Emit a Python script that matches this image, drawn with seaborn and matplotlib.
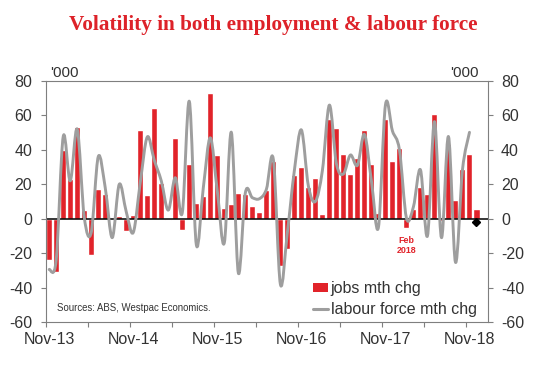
import numpy as np
import pandas as pd
import matplotlib
matplotlib.use("Agg")
import matplotlib.pyplot as plt
import seaborn as sns
from matplotlib.path import Path
from matplotlib.patches import PathPatch, Patch
from matplotlib.lines import Line2D

# ---------------- data ----------------
months = pd.date_range("2013-11-01", periods=62, freq="MS").strftime("%b-%y").tolist()

jobs = [-24, -31, 40, 23, 53, 5, -21, 17, 14.5, -1,
        1.7, -7, 2.3, 51.6, 13.9, 64.3, 20.9, -1, 47, -6.4,
        31.9, 9.3, 13.3, 73, 37.1, 6.4, 8.7, 15.1, 14.5, 7.5,
        4.1, 16.8, 33.6, -27.2, -17.4, 25.5, 30.1, 18.6, 23.8, 2.9,
        58, 52.8, 37.7, 26.1, 35.4, 51.6, 31.9, 3.5, 58, 33.6,
        41.2, -5.2, 5.8, 18.6, 14.5, 60.9, -1.5, 43.5, 11, 29,
        37.7, 5.8]

labour_force = [-29.5, -24, 47.7, 22, 52, 1, -8, 36, 18, -11,
                20, 4, -8, 21, 47.5, 34, 22, 5, 23.8, 3.5,
                68.2, -15, 18, 47, 16, -14, 50.2, -31.5, 15, 12.2,
                11.6, 17, 34.4, -38, -8, 28, 51.6, 19, 10, 28,
                66, 32, 26, 37, 31, 49, 22, -5, 66, 51,
                40, 0.4, 7, 28.4, -10, 56.4, -11, 47.7, -25.3, 28.4,
                50.2]

latest_marker = [-2]          # black diamond on the latest month
xtick_labels = ["Nov-13", "Nov-14", "Nov-15", "Nov-16", "Nov-17", "Nov-18"]
yticks = [-60, -40, -20, 0, 20, 40, 60, 80]

RED = "#E1232A"
TITLE_RED = "#DD2229"
GRAY = "#9E9E9E"
TXT = "#333333"
SPINE = "#7F7F7F"

# ---------------- style ----------------
sns.set_style("white")
plt.rcParams["font.family"] = ["Liberation Sans", "DejaVu Sans"]

W, H = 534, 367
fig = plt.figure(figsize=(W / 100, H / 100), dpi=100)
L, R, T, B = 45.7, 487.7, 81, 322
ax = fig.add_axes([L / W, 1 - B / H, (R - L) / W, (B - T) / H])

df = pd.DataFrame({"month": months, "jobs": jobs})
sns.barplot(data=df, x="month", y="jobs", color=RED, saturation=1,
            width=0.86, ax=ax, zorder=2)

ax.axhline(0, color="black", lw=1.1, zorder=2.5)

# Smoothed (Excel-style) line through the monthly labour-force values
xs = np.arange(len(labour_force), dtype=float)
ys = np.asarray(labour_force, dtype=float)
n = len(xs)
verts = [(xs[0], ys[0])]
codes = [Path.MOVETO]
for i in range(n - 1):
    p0 = np.array([xs[max(i - 1, 0)], ys[max(i - 1, 0)]])
    p1 = np.array([xs[i], ys[i]])
    p2 = np.array([xs[i + 1], ys[i + 1]])
    p3 = np.array([xs[min(i + 2, n - 1)], ys[min(i + 2, n - 1)]])
    c1 = p1 + (p2 - p0) / 6.0
    c2 = p2 - (p3 - p1) / 6.0
    verts += [tuple(c1), tuple(c2), tuple(p2)]
    codes += [Path.CURVE4, Path.CURVE4, Path.CURVE4]
ax.add_patch(PathPatch(Path(verts, codes), fill=False, edgecolor=GRAY,
                       lw=2.1, zorder=3, capstyle="round", joinstyle="round"))

ax.plot([len(jobs) - 1], latest_marker, marker="D", color="black",
        markersize=4, lw=0, zorder=4)

# ---------------- axes ----------------
ax.set_ylim(-60, 80)
ax.set_xlim(-0.5, 62.6)
ax.set_xlabel("")
ax.set_ylabel("")
ax.set_yticks(yticks)
ax.set_yticklabels([str(v) for v in yticks])
ax.set_xticks(np.arange(0, len(jobs), 12))
ax.set_xticklabels(xtick_labels)
ax.set_xticks(np.arange(-0.5, len(jobs), 6), minor=True)

ax.tick_params(axis="x", which="major", length=0, pad=7.5,
               labelsize=11.5, labelcolor=TXT)
ax.tick_params(axis="x", which="minor", length=3.6, width=0.8,
               color=SPINE, direction="out", bottom=True)
ax.tick_params(axis="y", which="major", length=3.6, width=0.8, color=SPINE,
               direction="out", left=True, right=True, labelleft=True,
               labelright=True, labelsize=11.5, labelcolor=TXT, pad=6)
for s in ax.spines.values():
    s.set_visible(True)
    s.set_color(SPINE)
    s.set_linewidth(0.8)
ax.grid(False)

# ---------------- texts ----------------
fig.text(273 / W, 1 - 30 / H, "Volatility in both employment & labour force",
         ha="center", va="baseline", fontsize=15.3, fontweight="bold",
         family=["Liberation Serif", "DejaVu Serif"], color=TITLE_RED)
fig.text(50 / W, 1 - 77.3 / H, "'000", ha="left", va="baseline",
         fontsize=11, color=TXT)
fig.text(450 / W, 1 - 77.3 / H, "'000", ha="left", va="baseline",
         fontsize=11, color=TXT)
fig.text(56.7 / W, 1 - 311 / H, "Sources: ABS, Westpac Economics.",
         ha="left", va="baseline", fontsize=6.9, color=TXT)
ax.text(51, -15.5, "Feb\n2018", ha="center", va="center", fontsize=6.4,
        fontweight="bold", color=RED, linespacing=1.2, zorder=5)

handles = [Patch(facecolor=RED, edgecolor="none"),
           Line2D([], [], color=GRAY, lw=2.2)]
fig.legend(handles=handles, labels=["jobs mth chg", "labour force mth chg"],
           loc="upper left", bbox_to_anchor=(313 / W, 1 - 281 / H),
           frameon=False, fontsize=11.5, handlelength=0.95, handleheight=0.5,
           handletextpad=0.15, labelspacing=0.4, borderpad=0,
           borderaxespad=0, labelcolor=TXT)

fig.savefig("out.png", dpi=100)
